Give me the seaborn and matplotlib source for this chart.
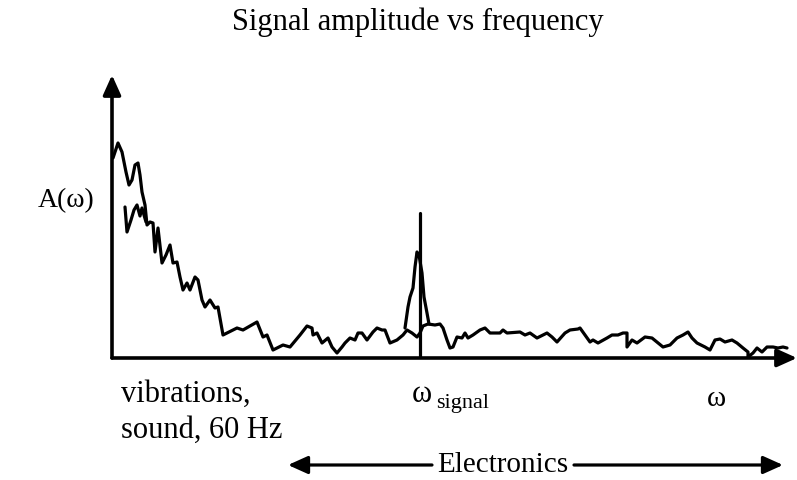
import matplotlib
matplotlib.use("Agg")
import matplotlib.pyplot as plt
import seaborn as sns

# background spectrum (frequency, amplitude)
freq = [1, 6, 10, 14, 17, 20, 23, 26, 28, 30, 33, 35, 38, 41, 43, 46, 50, 54, 58, 61,
        65, 68, 71, 75, 78, 83, 86, 90, 93, 98, 103, 106, 111, 115, 125, 131, 145, 151,
        155, 161, 171, 178, 188, 195, 200, 201, 205, 210, 216, 220, 225, 230, 233, 238,
        243, 246, 250, 255, 261, 265, 270, 273, 278, 285, 291, 295, 300, 305, 308, 311,
        316, 323, 328, 331, 335, 338, 341, 345, 350, 353, 356, 361, 368, 373, 378, 388,
        391, 395, 408, 413, 418, 425, 435, 440, 445, 453, 458, 466, 468, 473, 478, 481,
        486, 495, 500, 506, 511, 515, 515, 520, 525, 533, 540, 551, 558, 565, 571, 576,
        580, 585, 593, 598, 603, 608, 613, 620, 625, 631, 636, 636, 641, 645, 650, 655,
        661, 666, 671, 675]
amp = [200, 215, 206, 186, 173, 178, 193, 195, 183, 166, 153, 133, 136, 135, 106, 130,
       95, 103, 113, 95, 96, 81, 68, 75, 68, 81, 78, 58, 51, 58, 50, 51, 23, 25, 30, 28,
       36, 21, 23, 8, 13, 11, 23, 32, 30, 23, 25, 15, 20, 11, 5, 11, 15, 20, 18, 25, 25,
       18, 26, 30, 28, 28, 15, 18, 23, 28, 25, 21, 25, 32, 34, 33, 34, 30, 18, 10, 11,
       21, 20, 25, 20, 23, 28, 30, 25, 25, 28, 25, 26, 23, 25, 20, 25, 21, 16, 25, 28,
       29, 30, 23, 16, 18, 15, 20, 23, 23, 25, 25, 11, 18, 15, 21, 20, 11, 13, 20, 23,
       26, 20, 15, 11, 8, 18, 19, 16, 18, 15, 10, 6, 1, 5, 10, 6, 11, 11, 10, 11, 10]

# second trace at the low-frequency end
low_freq = [13, 15, 19, 22, 25, 28, 30, 34]
low_amp = [151, 126, 138, 148, 153, 142, 150, 136]

# peak around the signal frequency
peak_freq = [293, 296, 298, 301, 303, 305, 307, 310, 312, 315, 317]
peak_amp = [30, 51, 61, 70, 91, 106, 103, 85, 61, 45, 34]

signal_freq = 308
signal_height = 145
x_max, y_max = 685, 283

W, H = 797, 480
sns.set_theme(style="white")
plt.rcParams["font.family"] = ["Liberation Serif", "DejaVu Serif"]
plt.rcParams["text.color"] = "black"

fig = plt.figure(figsize=(W / 100, H / 100), dpi=100)
ax = fig.add_axes([112 / W, (H - 358) / H, 685 / W, 283 / H])

lw = 2.3
kw = dict(color="black", linewidth=lw, sort=False, estimator=None, ax=ax)
sns.lineplot(x=freq, y=amp, **kw)
sns.lineplot(x=low_freq, y=low_amp, **kw)
sns.lineplot(x=peak_freq, y=peak_amp, **kw)
ax.plot([signal_freq, signal_freq], [0, signal_height], color="black", linewidth=lw)

ax.set_xlim(0, x_max)
ax.set_ylim(0, y_max)
ax.set_xticks([])
ax.set_yticks([])
for s in ax.spines.values():
    s.set_visible(False)

arrow = dict(arrowstyle="-|>,head_length=1.0,head_width=0.45", color="black",
             linewidth=2.6, shrinkA=0, shrinkB=0)
ax.annotate("", xy=(0, y_max), xytext=(0, 0), arrowprops=arrow, annotation_clip=False)
ax.annotate("", xy=(x_max, 0), xytext=(0, 0), arrowprops=arrow, annotation_clip=False)


def fx(px):
    return px / W


def fy(py):
    return 1 - py / H


fig.text(fx(418), fy(22), "Signal amplitude vs frequency", ha="center", va="center", fontsize=22)
fig.text(fx(38), fy(207), "A(ω)", ha="left", va="baseline", fontsize=20)
fig.text(fx(121), fy(402), "vibrations,", ha="left", va="baseline", fontsize=22)
fig.text(fx(121), fy(438), "sound, 60 Hz", ha="left", va="baseline", fontsize=22)
fig.text(fx(412), fy(402), "ω", ha="left", va="baseline", fontsize=22)
fig.text(fx(436), fy(408), "signal", ha="left", va="baseline", fontsize=16)
fig.text(fx(716), fy(406), "ω", ha="center", va="baseline", fontsize=21)
fig.text(fx(503), fy(465), "Electronics", ha="center", va="center", fontsize=21)

# "Electronics" range arrows
harrow = dict(arrowstyle="-|>,head_length=1.0,head_width=0.45", color="black",
              linewidth=2.3, shrinkA=0, shrinkB=0)
ax.annotate("", xy=(fx(288), fy(465)), xytext=(fx(432), fy(465)), xycoords="figure fraction",
            textcoords="figure fraction", arrowprops=harrow, annotation_clip=False)
ax.annotate("", xy=(fx(783), fy(465)), xytext=(fx(574), fy(465)), xycoords="figure fraction",
            textcoords="figure fraction", arrowprops=harrow, annotation_clip=False)

fig.savefig("out.png", dpi=100)
